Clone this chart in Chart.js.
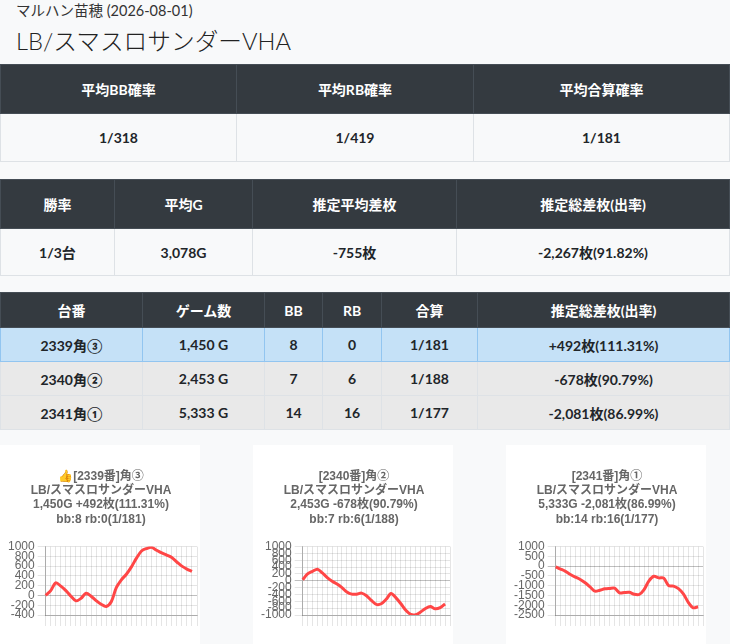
<!DOCTYPE html>
<html>
<head>
<meta charset="utf-8">
<script src="https://cdn.jsdelivr.net/npm/chart.js@4/dist/chart.umd.min.js"></script>
<style>
  body { margin: 0; background: #f8f9fa; font-family: Lato, "Noto Sans CJK JP", sans-serif; color: #212529; width: 730px; height: 644px; overflow: hidden; position: relative; }
  .shop { position: absolute; left: 16px; top: -1px; font-size: 14.5px; color: #333; }
  .model { position: absolute; left: 16px; top: 23px; font-size: 23.7px; color: #222; font-weight: 300; }
  table { position: absolute; left: 0; width: 730px; border-collapse: collapse; table-layout: fixed; }
  th, td { padding: 0; }
  th { background: #343a40; color: #fff; font-weight: 700; font-size: 14px; border: 1px solid #454d55; }
  td { text-align: center; font-weight: 700; font-size: 14px; border: 1px solid #dee2e6; background: #f8f9fa; }
  #t1 { top: 64px; } #t1 th { height: 48px; } #t1 td { height: 47px; }
  #t2 { top: 179px; } #t2 th { height: 48px; } #t2 td { height: 46px; }
  #t3 { top: 292px; } #t3 th { height: 34px; } #t3 td { height: 33px; background: #e9e9e9; }
  #t3 tr.hl td { background: #c5e1f7; border-color: #92c5f0; }
  .card { position: absolute; top: 445px; width: 200px; height: 199px; background: #fff; }
  .box { position: absolute; top: 14px; left: 0; width: 200px; height: 167px; }
</style>
</head>
<body>
<div class="shop">マルハン苗穂 (2026-08-01)</div>
<div class="model">LB/スマスロサンダーVHA</div>

<table id="t1">
  <colgroup><col style="width:236px"><col style="width:237px"><col></colgroup>
  <tr><th>平均BB確率</th><th>平均RB確率</th><th>平均合算確率</th></tr>
  <tr><td>1/318</td><td>1/419</td><td>1/181</td></tr>
</table>

<table id="t2">
  <colgroup><col style="width:114px"><col style="width:138px"><col style="width:204px"><col></colgroup>
  <tr><th>勝率</th><th>平均G</th><th>推定平均差枚</th><th>推定総差枚(出率)</th></tr>
  <tr><td>1/3台</td><td>3,078G</td><td>-755枚</td><td>-2,267枚(91.82%)</td></tr>
</table>

<table id="t3">
  <colgroup><col style="width:142px"><col style="width:122px"><col style="width:58px"><col style="width:59px"><col style="width:96px"><col></colgroup>
  <tr><th>台番</th><th>ゲーム数</th><th>BB</th><th>RB</th><th>合算</th><th>推定総差枚(出率)</th></tr>
  <tr class="hl"><td>2339角③</td><td>1,450 G</td><td>8</td><td>0</td><td>1/181</td><td>+492枚(111.31%)</td></tr>
  <tr><td>2340角②</td><td>2,453 G</td><td>7</td><td>6</td><td>1/188</td><td>-678枚(90.79%)</td></tr>
  <tr><td>2341角①</td><td>5,333 G</td><td>14</td><td>16</td><td>1/177</td><td>-2,081枚(86.99%)</td></tr>
</table>

<div class="card" style="left:0"><div class="box"><canvas id="c1"></canvas></div></div>
<div class="card" style="left:253px"><div class="box"><canvas id="c2"></canvas></div></div>
<div class="card" style="left:506px"><div class="box"><canvas id="c3"></canvas></div></div>

<script>
// x slots (31 grid positions, data fills 30)
const slots = Array.from({ length: 31 }, (_, i) => String(i));

const diff2339 = [0, 100, 260, 190, 100, -15, -110, -60, 45, -15, -105, -180, -225, -130, 160, 320, 435, 585, 765, 910, 960, 985, 925, 870, 825, 775, 685, 600, 540, 492];
const diff2340 = [30, 200, 275, 340, 230, 95, -10, -95, -200, -330, -390, -390, -360, -435, -575, -690, -670, -540, -370, -500, -670, -860, -980, -990, -915, -810, -755, -820, -785, -678];
const diff2341 = [-40, -150, -270, -430, -560, -680, -850, -1060, -1280, -1230, -1160, -1140, -1130, -1370, -1350, -1340, -1440, -1450, -1200, -750, -520, -600, -610, -1000, -1020, -1150, -1420, -1850, -2130, -2081];

const titles = [
  ["👍[2339番]角③", "LB/スマスロサンダーVHA", "1,450G +492枚(111.31%)", "bb:8 rb:0(1/181)"],
  ["[2340番]角②", "LB/スマスロサンダーVHA", "2,453G -678枚(90.79%)", "bb:7 rb:6(1/188)"],
  ["[2341番]角①", "LB/スマスロサンダーVHA", "5,333G -2,081枚(86.99%)", "bb:14 rb:16(1/177)"]
];

Chart.defaults.font.family = "'Liberation Sans', Arial, 'Noto Sans CJK JP', sans-serif";
Chart.defaults.color = "#666";

function drawSlump(id, data, title, yMin, yMax, step) {
  new Chart(document.getElementById(id), {
    type: "line",
    data: {
      labels: slots,
      datasets: [{
        data: data,
        borderColor: "#ff4646",
        borderWidth: 3,
        pointRadius: 0,
        tension: 0.3,
        fill: false
      }]
    },
    options: {
      responsive: true,
      maintainAspectRatio: false,
      animation: false,
      layout: { padding: { left: 5, right: 3, top: 0, bottom: 0 } },
      plugins: {
        legend: { display: false },
        tooltip: { enabled: false },
        title: {
          display: true,
          text: title,
          font: { size: 12, weight: "bold" },
          lineHeight: 1.3,
          padding: { top: 10, bottom: 20 }
        }
      },
      scales: {
        x: {
          ticks: { display: false },
          grid: { color: "rgba(0,0,0,0.1)", tickLength: 11 },
          border: { color: "rgba(0,0,0,0.25)" }
        },
        y: {
          min: yMin,
          max: yMax,
          ticks: { stepSize: step, autoSkip: false, font: { size: 12 }, padding: 3, callback: (v) => String(v) },
          grid: {
            color: (ctx) => ctx.tick && ctx.tick.value === 0 ? "rgba(0,0,0,0.25)" : "rgba(0,0,0,0.1)",
            tickLength: 8
          },
          border: { color: "rgba(0,0,0,0.25)" }
        }
      }
    }
  });
}

drawSlump("c1", diff2339, titles[0], -400, 1000, 200);
drawSlump("c2", diff2340, titles[1], -1000, 1000, 200);
drawSlump("c3", diff2341, titles[2], -2500, 1000, 500);
</script>
</body>
</html>
